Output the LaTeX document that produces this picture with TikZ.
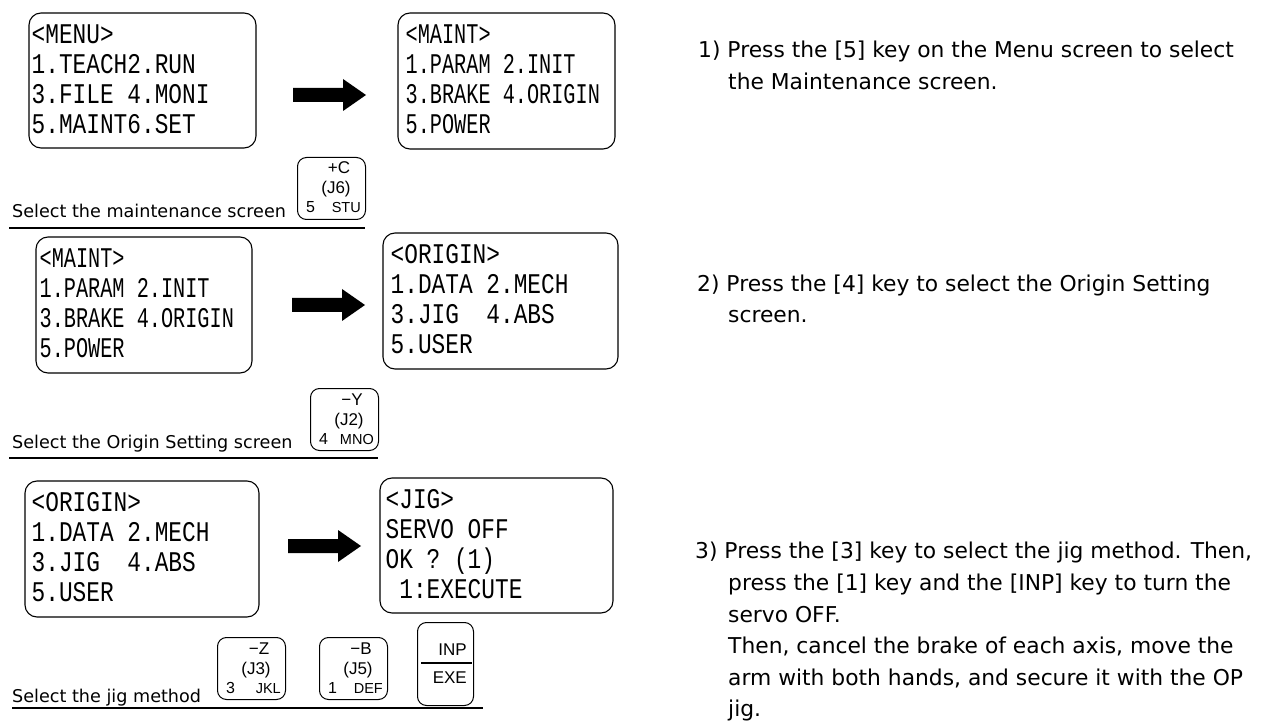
\documentclass[tikz,border=0pt]{standalone}
\usepackage{fontspec}
\setmainfont{DejaVu Sans}
\newfontfamily\lcdW[FakeStretch=0.80]{Liberation Mono}
\newfontfamily\lcdN[FakeStretch=0.71]{Liberation Mono}
\newfontfamily\keyf{Liberation Sans}
\usetikzlibrary{fit}
\tikzset{
  screenbox/.style={draw, line width=1.1pt, rounded corners=12pt, inner sep=0pt},
  lcd/.style={anchor=base west, inner sep=0pt, font=\fontsize{28.5}{30}\selectfont\lcdN},
  lcdw/.style={anchor=base west, inner sep=0pt, font=\fontsize{28.5}{30}\selectfont\lcdW},
  keybox/.style={draw, line width=1pt, rounded corners=9pt, inner sep=0pt},
  keytxt/.style={inner sep=0pt, anchor=base, font=\fontsize{17}{17}\selectfont\keyf},
  keynum/.style={inner sep=0pt, anchor=base west, font=\fontsize{16}{16}\selectfont\keyf},
  keylet/.style={inner sep=0pt, anchor=base east, font=\fontsize{14.5}{15}\selectfont\keyf},
  steptext/.style={inner sep=0pt, anchor=base west, font=\fontsize{21.8}{22}\selectfont},
  captxt/.style={inner sep=0pt, anchor=base west, font=\fontsize{17.6}{18}\selectfont},
  uline/.style={line width=2.4pt},
  blockarrow/.style={fill=black}
}
\newcommand\myinset{6}
\newcommand\myscreen[8]{%
  \node[screenbox, fit={#2 #3}] (#1) {};
  \node[#4] (#1a) at ([xshift=\myinset pt, yshift=-31pt]#1.north west) {#5};
  \node[#4] (#1b) at ([xshift=\myinset pt, yshift=-61pt]#1.north west) {#6};
  \node[#4] (#1c) at ([xshift=\myinset pt, yshift=-91pt]#1.north west) {#7};
  \node[#4] (#1d) at ([xshift=\myinset pt, yshift=-121pt]#1.north west) {#8};
}
\newcommand\mykey[7]{%
  \node[keybox, minimum width=68pt, minimum height=62pt, anchor=north west] (#1) at (#2,#3) {};
  \node[keytxt] (#1t) at ([xshift=42pt, yshift=-17pt]#1.north west) {#4};
  \node[keytxt] (#1m) at ([xshift=39pt, yshift=-37pt]#1.north west) {#5};
  \node[keynum] (#1n) at ([xshift=9pt, yshift=-56pt]#1.north west) {#6};
  \node[keylet] (#1l) at ([xshift=64pt, yshift=-56pt]#1.north west) {#7};
}
\newcommand\myarrow[2]{%
  \fill[blockarrow] (#1,#2-7) -- (#1+50,#2-7) -- (#1+50,#2-16) -- (#1+73,#2)
    -- (#1+50,#2+16) -- (#1+50,#2+7) -- (#1,#2+7) -- cycle;
}
\begin{document}
\begin{tikzpicture}[x=1pt,y=-1pt]
\useasboundingbox[fill=white] (0,0) rectangle (1262,722);

% ---------- Row 1
\renewcommand\myinset{3}
\myscreen{menu}{(29,13)}{(256,148)}{lcdw}{<MENU>}{1.TEACH2.RUN}{3.FILE 4.MONI}{5.MAINT6.SET}
\renewcommand\myinset{8}
\myscreen{maintA}{(398,13)}{(615,149)}{lcd}{<MAINT>}{1.PARAM 2.INIT}{3.BRAKE 4.ORIGIN}{5.POWER}
\myarrow{293}{95}
\mykey{kC}{297}{157}{+C}{(J6)}{5}{STU}
\node[captxt] (cap1) at (12,218) {Select the maintenance screen};
\coordinate (u1s) at (9,228);
\coordinate (u1e) at (365,228);
\draw[uline] (u1s) -- (u1e);

% ---------- Row 2
\renewcommand\myinset{4}
\myscreen{maintB}{(36,237)}{(252,373)}{lcd}{<MAINT>}{1.PARAM 2.INIT}{3.BRAKE 4.ORIGIN}{5.POWER}
\renewcommand\myinset{8}
\myscreen{originA}{(383,233)}{(618,369)}{lcdw}{<ORIGIN>}{1.DATA 2.MECH}{3.JIG\ \ 4.ABS}{5.USER}
\myarrow{292}{305}
\mykey{kY}{310}{388}{−Y}{(J2)}{4}{MNO}
\node[captxt] (cap2) at (12,448) {Select the Origin Setting screen};
\coordinate (u2s) at (9,458);
\coordinate (u2e) at (378,458);
\draw[uline] (u2s) -- (u2e);

% ---------- Row 3
\renewcommand\myinset{7}
\myscreen{originB}{(25,481)}{(259,617)}{lcdw}{<ORIGIN>}{1.DATA 2.MECH}{3.JIG\ \ 4.ABS}{5.USER}
\renewcommand\myinset{6}
\myscreen{jig}{(380,478)}{(613,613)}{lcdw}{<JIG>}{SERVO OFF}{OK ? (1)}{\hphantom{0}1:EXECUTE}
\myarrow{288}{546}
\mykey{kZ}{217}{637}{−Z}{(J3)}{3}{JKL}
\mykey{kB}{319}{637}{−B}{(J5)}{1}{DEF}
\node[keybox, minimum width=56pt, minimum height=83pt, anchor=north west] (inp) at (417,622) {};
\draw[line width=1.2pt] ([xshift=4pt,yshift=-41pt]inp.north west) -- ([xshift=-2pt,yshift=-41pt]inp.north east);
\node[keytxt, anchor=base east] (inpT) at ([xshift=-7pt,yshift=-33pt]inp.north east) {INP};
\node[keytxt, anchor=base east] (inpB) at ([xshift=-7pt,yshift=-61pt]inp.north east) {EXE};
\node[captxt] (cap3) at (12,702) {Select the jig method};
\coordinate (u3s) at (12,708);
\coordinate (u3e) at (483,708);
\draw[uline] (u3s) -- (u3e);

% ---------- Step texts
\node[steptext] (s1a) at (698,58) {1) Press the [5] key on the Menu screen to select};
\node[steptext] (s1b) at (728,90) {the Maintenance screen.};
\node[steptext] (s2a) at (697,292) {2) Press the [4] key to select the Origin Setting};
\node[steptext] (s2b) at (728,323) {screen.};
\node[steptext] (s3a) at (695,558) {3) Press the [3] key to select the jig method. Then,};
\node[steptext] (s3b) at (728,590) {press the [1] key and the [INP] key to turn the};
\node[steptext] (s3c) at (728,622) {servo OFF.};
\node[steptext] (s3d) at (728,653) {Then, cancel the brake of each axis, move the};
\node[steptext] (s3e) at (728,685) {arm with both hands, and secure it with the OP};
\node[steptext] (s3f) at (728,716) {jig.};
\end{tikzpicture}
\end{document}
